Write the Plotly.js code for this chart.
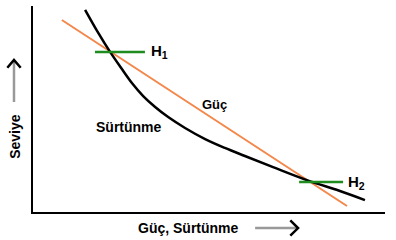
<!DOCTYPE html>
<html>
<head>
<meta charset="utf-8">
<script src="https://cdn.plot.ly/plotly-3.0.1.min.js"></script>
<style>html,body{margin:0;padding:0;background:#fff;}#chart{width:396px;height:240px;}</style>
</head>
<body>
<div id="chart"></div>
<script>
// Güç (power) straight line
const gucX = [0.82, 8.92];
const gucY = [9.32, 0.29];
// Sürtünme (friction) curve
const surtX = [1.48, 1.82, 2.19, 2.50, 2.81, 3.13, 3.47, 3.84, 4.32, 4.89, 5.45, 6.02, 6.82, 7.78, 8.72, 9.43];
const surtY = [9.81, 8.79, 7.77, 7.00, 6.26, 5.63, 5.10, 4.61, 4.08, 3.54, 3.11, 2.72, 2.18, 1.55, 1.02, 0.58];
// Equilibrium levels
const h1X = [1.76, 3.18];
const h1Y = [7.77, 7.77];
const h2X = [7.56, 8.81];
const h2Y = [1.46, 1.46];
// Labels
const labelGuc = {text: 'Güç', x: 5.17, y: 5.24};
const labelSurt = {text: 'Sürtünme', x: 2.72, y: 4.13};
const labelH1 = {text: 'H<sub>1</sub>', x: 3.30, y: 7.80};
const labelH2 = {text: 'H<sub>2</sub>', x: 8.88, y: 1.42};
const xTitle = 'Güç, Sürtünme';
const yTitle = 'Seviye';

const font = {family: 'Liberation Sans, Arial, sans-serif', size: 14, color: '#000'};

const traces = [
  {x: gucX, y: gucY, mode: 'lines', line: {color: '#f4874a', width: 2}, hoverinfo: 'skip'},
  {x: surtX, y: surtY, mode: 'lines', line: {color: '#000', width: 2.5, shape: 'spline', smoothing: 1}, hoverinfo: 'skip'},
  {x: h1X, y: h1Y, mode: 'lines', line: {color: '#1e8c1e', width: 2.5}, hoverinfo: 'skip'},
  {x: h2X, y: h2Y, mode: 'lines', line: {color: '#1e8c1e', width: 2.5}, hoverinfo: 'skip'}
];

function lbl(o, anchor, size) {
  return {x: o.x, y: o.y, xref: 'x', yref: 'y', text: '<b>' + o.text + '</b>', showarrow: false,
          xanchor: anchor || 'center', yanchor: 'middle', font: Object.assign({}, font, {size: size || 14})};
}

const layout = {
  width: 396, height: 240,
  margin: {l: 33, r: 11, t: 6, b: 28},
  paper_bgcolor: '#fff', plot_bgcolor: '#fff',
  showlegend: false,
  xaxis: {range: [0, 10], showgrid: false, zeroline: false, showticklabels: false, ticks: '',
          showline: true, linecolor: '#000', linewidth: 2, fixedrange: true},
  yaxis: {range: [0, 10], showgrid: false, zeroline: false, showticklabels: false, ticks: '',
          showline: true, linecolor: '#000', linewidth: 2, fixedrange: true},
  annotations: [
    lbl(labelGuc, 'center', 13), lbl(labelSurt, 'center', 14),
    lbl(labelH1, 'left', 15), lbl(labelH2, 'left', 15),
    {x: 0.443, y: -0.078, xref: 'paper', yref: 'paper', text: '<b>' + xTitle + '</b>', showarrow: false,
     xanchor: 'center', yanchor: 'middle', font: font},
    {x: -0.051, y: 0.365, xref: 'paper', yref: 'paper', text: '<b>' + yTitle + '</b>', showarrow: false,
     textangle: -90, xanchor: 'center', yanchor: 'middle', font: font}
  ],
  shapes: [
    {type: 'line', xref: 'paper', yref: 'paper', x0: -0.054, y0: 0.534, x1: -0.054, y1: 0.733,
     line: {color: '#999', width: 2.5}},
    {type: 'path', xref: 'paper', yref: 'paper', path: 'M -0.073 0.700 L -0.054 0.738 L -0.035 0.700',
     line: {color: '#000', width: 2.5}},
    {type: 'line', xref: 'paper', yref: 'paper', x0: 0.631, y0: -0.078, x1: 0.748, y1: -0.078,
     line: {color: '#999', width: 2.5}},
    {type: 'path', xref: 'paper', yref: 'paper', path: 'M 0.731 -0.041 L 0.753 -0.078 L 0.731 -0.115',
     line: {color: '#000', width: 2.5}}
  ]
};

Plotly.newPlot('chart', traces, layout, {displayModeBar: false, staticPlot: true});
</script>
</body>
</html>
